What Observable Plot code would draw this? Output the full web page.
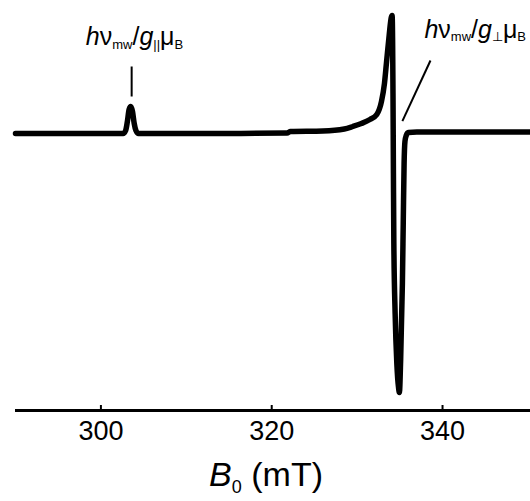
<!DOCTYPE html>
<html><head><meta charset="utf-8">
<script src="https://cdn.jsdelivr.net/npm/d3@7"></script>
<script src="https://cdn.jsdelivr.net/npm/@observablehq/plot@0.6"></script>
<style>
html,body{margin:0;padding:0;background:#fff;}
#chart svg{display:block;}
</style></head><body><div id="chart"></div>
<script>
// Magnetic field (mT) and derivative EPR signal (arbitrary units)
const fieldB = [290, 302.6, 302.9, 303.1, 303.3, 303.5, 303.7, 303.9, 304.1, 304.4, 315, 321.8, 322.2, 326, 328.5, 329.5, 330.5, 331.5, 332.3, 332.85, 333.2, 333.45, 333.75, 334.0, 334.1, 334.2, 334.25, 334.3, 334.45, 334.65, 334.85, 334.95, 335.1, 335.3, 335.4, 335.5, 335.6, 335.75, 336.0, 337.0, 340, 350.3];
const signal = [0, 0, 3, 12, 24, 27, 22, 10, 3, 0, 0, 0.5, 2, 2.5, 4.5, 7, 10, 14, 19, 32, 50, 72, 98, 116, 118, 40, -40, -110, -180, -230, -254, -259, -225, -150, -90, -30, -8, -2, 1, 1.5, 1.5, 1.5];
const xTicks = [300, 320, 340];
const axisTitle = "B_{0} (mT)";
const annLabels = ["hν_{mw}/g_{||}μ_{B}", "hν_{mw}/g_{⊥}μ_{B}"];
const annX = [298.24, 337.88];
const annY = [88.5, 96];
const markerX1 = [303.6, 338.59];
const markerY1 = [67, 73];
const markerX2 = [303.6, 335.30];
const markerY2 = [37, 12.3];
const italicChars = ["h", "g", "B"];

const yMin = -277, yMax = 133;
const data = fieldB.map((b, i) => ({b, s: signal[i]}));
const markers = markerX1.map((x1, i) => ({x1, y1: markerY1[i], x2: markerX2[i], y2: markerY2[i]}));

const chart = Plot.plot({
  width: 530, height: 501,
  marginLeft: 15, marginRight: 0, marginTop: 0, marginBottom: 91,
  x: {domain: [290, 350.3]},
  y: {domain: [yMin, yMax], axis: null},
  style: {fontFamily: "'Liberation Sans', Arial, sans-serif", background: "white", color: "black"},
  marks: [
    Plot.ruleY([yMin], {stroke: "black", strokeWidth: 3}),
    Plot.ruleX(xTicks, {y1: yMin, y2: yMin + 5, stroke: "black", strokeWidth: 2}),
    Plot.axisX(xTicks, {tickSize: 0, tickPadding: 10, fontSize: 27, label: null}),
    Plot.line(data, {x: "b", y: "s", stroke: "black", strokeWidth: 5.5, curve: "monotone-x", strokeLinejoin: "round"}),
    Plot.link(markers, {x1: "x1", y1: "y1", x2: "x2", y2: "y2", stroke: "black", strokeWidth: 2}),
    Plot.text(annLabels, {x: (d, i) => annX[i], y: (d, i) => annY[i], text: d => d, textAnchor: "start", lineAnchor: "bottom", fontSize: 25}),
    Plot.text([axisTitle], {x: [312.67], frameAnchor: "bottom", dy: 75, text: d => d, textAnchor: "start", lineAnchor: "bottom", fontSize: 34})
  ]
});

function richText(el, str, subSize, shift) {
  const t = d3.select(el);
  t.text(null);
  const re = /_\{([^}]*)\}|([^_]+)/g;
  let m, prevSub = false;
  while ((m = re.exec(str))) {
    if (m[1] !== undefined) {
      t.append("tspan").attr("font-size", subSize).attr("dy", prevSub ? 0 : shift).text(m[1]);
      prevSub = true;
    } else {
      for (const ch of m[2]) {
        const sp = t.append("tspan").text(ch);
        if (italicChars.includes(ch)) sp.attr("font-style", "italic");
        if (prevSub) { sp.attr("dy", -shift); prevSub = false; }
      }
    }
  }
}

d3.select(chart).selectAll("text").each(function() {
  const s = this.textContent;
  if (!s.includes("_{")) return;
  if (s === axisTitle) richText(this, s, 18, 7);
  else richText(this, s, 13, 3.5);
});
d3.select(chart).attr("xml:space", "preserve");

document.getElementById("chart").appendChild(chart);
</script>
</body></html>
